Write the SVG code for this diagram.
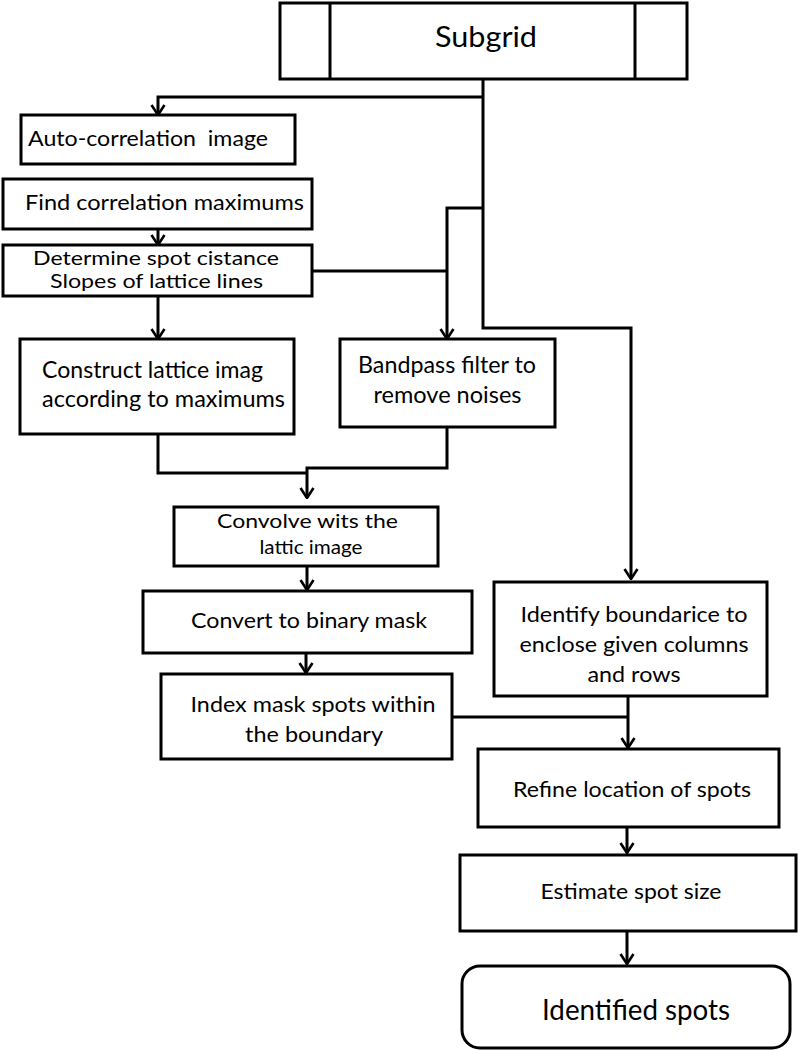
<svg xmlns="http://www.w3.org/2000/svg" width="798" height="1050" viewBox="0 0 798 1050">
<style>
.box{fill:#fff;stroke:#000;stroke-width:3}
.ln{fill:none;stroke:#000;stroke-width:3}
.t{font-family:Lato,"Open Sans","Liberation Sans",sans-serif;fill:#000;font-size:21px}
.c{text-anchor:middle}
</style>
<defs>
<marker id="ah" viewBox="0 0 12 16" refX="11" refY="8" markerWidth="12" markerHeight="16" markerUnits="userSpaceOnUse" orient="auto">
<path d="M1,1.5 L11,8 L1,14.5" fill="none" stroke="#000" stroke-width="2.6"/>
</marker>
</defs>
<rect width="798" height="1050" fill="#fff"/>
<g id="connectors">
<path class="ln" d="M483,79 V328 H631 V579" marker-end="url(#ah)"/>
<path class="ln" d="M483,97 H158 V115" marker-end="url(#ah)"/>
<path class="ln" d="M158,229 V245" marker-end="url(#ah)"/>
<path class="ln" d="M158,296 V339" marker-end="url(#ah)"/>
<path class="ln" d="M483,208 H447 V339" marker-end="url(#ah)"/>
<path class="ln" d="M312,271 H447"/>
<path class="ln" d="M158,434 V473 H307"/>
<path class="ln" d="M447,427 V468 H307 V498" marker-end="url(#ah)"/>
<path class="ln" d="M307,566 V590" marker-end="url(#ah)"/>
<path class="ln" d="M306,653 V673" marker-end="url(#ah)"/>
<path class="ln" d="M452,717 H628"/>
<path class="ln" d="M628,696 V748" marker-end="url(#ah)"/>
<path class="ln" d="M627,827 V853" marker-end="url(#ah)"/>
<path class="ln" d="M627,931 V964" marker-end="url(#ah)"/>
</g>
<g id="subgrid">
<rect class="box" x="280" y="3" width="407" height="76"/>
<path class="ln" d="M330,3 V79 M635,3 V79"/>
<text class="t c" x="486" y="47" style="font-size:29px" textLength="102" lengthAdjust="spacingAndGlyphs">Subgrid</text>
</g>
<g id="autocorr">
<rect class="box" x="21" y="115" width="274" height="49"/>
<text class="t" x="28" y="146" style="font-size:22px;white-space:pre" textLength="240" lengthAdjust="spacingAndGlyphs">Auto-correlation  image</text>
</g>
<g id="findmax">
<rect class="box" x="3" y="179" width="309" height="50"/>
<text class="t" x="25" y="210" textLength="279" lengthAdjust="spacingAndGlyphs">Find correlation maximums</text>
</g>
<g id="determine">
<rect class="box" x="3" y="245" width="309" height="51"/>
<text class="t c" x="156" y="265" style="font-size:19px" textLength="246" lengthAdjust="spacingAndGlyphs">Determine spot cistance</text>
<text class="t c" x="156.5" y="288" style="font-size:19px" textLength="213" lengthAdjust="spacingAndGlyphs">Slopes of lattice lines</text>
</g>
<g id="construct">
<rect class="box" x="20" y="339" width="274" height="95"/>
<text class="t" x="42" y="378" style="font-size:23px" textLength="221" lengthAdjust="spacingAndGlyphs">Construct lattice imag</text>
<text class="t" x="42" y="407" style="font-size:23px" textLength="243" lengthAdjust="spacingAndGlyphs">according to maximums</text>
</g>
<g id="bandpass">
<rect class="box" x="340" y="339" width="215" height="88"/>
<text class="t c" x="447" y="373" style="font-size:23px" textLength="178" lengthAdjust="spacingAndGlyphs">Bandpass filter to</text>
<text class="t c" x="447.5" y="403" style="font-size:23px" textLength="148" lengthAdjust="spacingAndGlyphs">remove noises</text>
</g>
<g id="convolve">
<rect class="box" x="174" y="507" width="264" height="59"/>
<text class="t c" x="307.5" y="528" style="font-size:20px" textLength="181" lengthAdjust="spacingAndGlyphs">Convolve wits the</text>
<text class="t c" x="311" y="554" style="font-size:20px" textLength="103" lengthAdjust="spacingAndGlyphs">lattic image</text>
</g>
<g id="convert">
<rect class="box" x="143" y="591" width="329" height="62"/>
<text class="t c" x="309" y="628" textLength="236" lengthAdjust="spacingAndGlyphs">Convert to binary mask</text>
</g>
<g id="identify">
<rect class="box" x="494" y="582" width="273" height="114"/>
<text class="t c" x="634" y="622" style="font-size:22px" textLength="227" lengthAdjust="spacingAndGlyphs">Identify boundarice to</text>
<text class="t c" x="634" y="652" style="font-size:22px" textLength="229" lengthAdjust="spacingAndGlyphs">enclose given columns</text>
<text class="t c" x="634" y="682" style="font-size:22px" textLength="93" lengthAdjust="spacingAndGlyphs">and rows</text>
</g>
<g id="index">
<rect class="box" x="161" y="674" width="291" height="85"/>
<text class="t c" x="313" y="712" style="font-size:22px" textLength="245" lengthAdjust="spacingAndGlyphs">Index mask spots within</text>
<text class="t c" x="314" y="742" style="font-size:22px" textLength="138" lengthAdjust="spacingAndGlyphs">the boundary</text>
</g>
<g id="refine">
<rect class="box" x="478" y="749" width="301" height="78"/>
<text class="t c" x="632" y="797" textLength="238" lengthAdjust="spacingAndGlyphs">Refine location of spots</text>
</g>
<g id="estimate">
<rect class="box" x="460" y="855" width="336" height="76"/>
<text class="t c" x="631" y="899" style="font-size:22px" textLength="181" lengthAdjust="spacingAndGlyphs">Estimate spot size</text>
</g>
<g id="identified">
<rect class="box" x="462" y="966" width="328" height="82" rx="18" ry="18"/>
<text class="t c" x="636" y="1020" style="font-size:28px" textLength="188" lengthAdjust="spacingAndGlyphs">Identified spots</text>
</g>
</svg>
